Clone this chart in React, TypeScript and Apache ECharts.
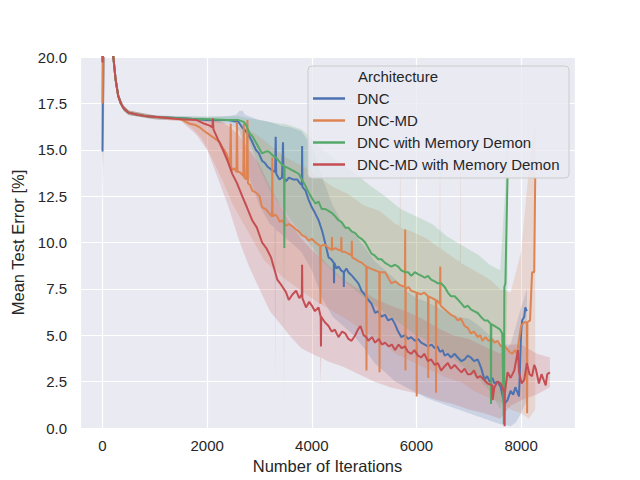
import React, { useEffect, useRef } from "react";
import * as echarts from "echarts";

const SERIES_NAMES = ["DNC", "DNC-MD", "DNC with Memory Demon", "DNC-MD with Memory Demon"];
const COLORS = ["#4c72b0", "#dd8452", "#55a868", "#c44e52"];
const LEGEND_TITLE = "Architecture";
const X_NAME = "Number of Iterations";
const Y_NAME = "Mean Test Error [%]";

// value at iteration 0 per architecture
const startValues = [14.9, 17.5, 19.8, 19.7];
// shared early decay (all architectures overlap)
const earlyX = [50, 100, 150, 200, 250, 300, 350, 400, 500, 650, 850, 1100];
const earlyY = [45, 32, 24, 20.2, 18.8, 17.9, 17.5, 17.25, 17.0, 16.9, 16.8, 16.75];

const dncTail: number[][] = [
  [1500, 16.7], [1800, 16.65], [2000, 16.6], [2200, 16.6], [2400, 16.6], [2600, 16.5], [2670, 16.2], [2770, 15.9],
  [2850, 15.5], [2930, 15.0], [2990, 14.8], [3050, 14.4], [3100, 14.3], [3150, 14.1], [3240, 13.9], [3300, 13.8],
  [3310, 15.7], [3320, 13.7], [3380, 13.4], [3430, 13.5], [3450, 15.4], [3460, 13.5], [3510, 13.3], [3560, 13.5],
  [3640, 13.4], [3720, 13.4], [3770, 13.2], [3810, 13.1], [3815, 15.2], [3820, 13.0], [3880, 12.8], [3940, 12.3],
  [4000, 11.9], [4060, 11.6], [4130, 11.2], [4200, 10.6], [4270, 9.8], [4320, 9.2], [4370, 9.1], [4420, 8.9],
  [4425, 7.8], [4430, 8.9], [4470, 8.6], [4510, 8.7], [4560, 8.5], [4610, 8.4], [4612, 7.6], [4615, 8.4],
  [4660, 8.6], [4700, 8.4], [4770, 8.2], [4830, 8.0], [4890, 7.8], [4950, 7.4], [5010, 7.2], [5080, 6.9],
  [5140, 6.7], [5210, 6.2], [5270, 6.3], [5330, 6.0], [5400, 6.1], [5460, 5.8], [5530, 5.9], [5590, 5.6],
  [5650, 5.2], [5710, 4.9], [5780, 5.0], [5840, 4.8], [5900, 4.9], [5970, 4.7], [6030, 4.8], [6090, 4.6],
  [6160, 4.5], [6220, 4.4], [6290, 4.5], [6350, 4.3], [6400, 4.4], [6450, 4.1], [6500, 4.2], [6540, 3.9],
  [6600, 4.0], [6660, 3.8], [6730, 4.0], [6790, 3.8], [6860, 3.6], [6920, 3.7], [6980, 3.9], [7040, 3.8],
  [7100, 3.6], [7170, 3.7], [7200, 3.5], [7240, 3.2], [7300, 2.6], [7350, 2.8], [7400, 2.5], [7450, 2.7],
  [7490, 2.4], [7550, 2.5], [7610, 2.2], [7680, 1.3], [7740, 1.5], [7800, 2.0], [7850, 1.8], [7890, 2.2],
  [7960, 1.7], [8000, 5.1], [8020, 5.8], [8060, 6.0], [8080, 6.5], [8110, 6.3],
];

const dncMdTail: number[][] = [
  [1500, 16.65], [1670, 16.4], [1760, 16.35], [1860, 16.2], [1950, 16.0], [2050, 15.8], [2150, 15.6], [2240, 15.4],
  [2300, 15.1], [2370, 14.8], [2440, 14.2], [2450, 16.4], [2460, 14.1], [2480, 13.9], [2520, 14.0], [2560, 13.8],
  [2570, 16.5], [2580, 13.8], [2620, 13.8], [2690, 13.6], [2700, 16.4], [2710, 13.5], [2750, 13.4], [2770, 16.6],
  [2780, 13.2], [2820, 13.1], [2860, 12.8], [2930, 12.7], [3000, 12.5], [3050, 11.9], [3120, 11.8], [3180, 11.6],
  [3240, 11.4], [3245, 14.6], [3250, 11.4], [3300, 11.5], [3340, 11.4], [3390, 11.1], [3430, 11.2], [3510, 10.9],
  [3560, 11.0], [3620, 10.9], [3700, 10.7], [3750, 10.6], [3810, 10.4], [3880, 10.3], [3940, 10.1], [4000, 10.2],
  [4070, 10.0], [4120, 9.9], [4160, 9.8], [4165, 6.7], [4170, 9.8], [4250, 9.9], [4320, 9.7], [4380, 9.6],
  [4385, 10.3], [4390, 9.6], [4450, 9.7], [4510, 9.6], [4560, 9.6], [4565, 10.3], [4570, 9.5], [4630, 9.5],
  [4700, 9.4], [4760, 9.3], [4765, 10.1], [4770, 9.2], [4830, 9.1], [4890, 9.0], [4960, 8.9], [5040, 8.7],
  [5045, 3.1], [5050, 8.7], [5120, 8.6], [5210, 8.5], [5290, 8.4], [5295, 3.0], [5300, 8.4], [5400, 8.4],
  [5460, 8.1], [5520, 7.8], [5600, 7.9], [5690, 7.7], [5780, 7.6], [5785, 10.7], [5790, 3.1], [5795, 7.5],
  [5850, 7.6], [5900, 7.4], [6000, 7.3], [6005, 1.7], [6010, 7.3], [6080, 7.2], [6150, 7.3], [6220, 7.1],
  [6225, 2.7], [6230, 7.1], [6300, 7.0], [6370, 6.9], [6375, 1.9], [6380, 6.9], [6450, 6.7], [6455, 8.7],
  [6460, 6.6], [6500, 6.5], [6580, 6.3], [6660, 6.1], [6730, 6.0], [6790, 5.8], [6850, 5.9], [6920, 5.5],
  [6980, 5.4], [7040, 5.1], [7100, 5.2], [7170, 4.9], [7220, 5.0], [7260, 4.7], [7320, 4.9], [7380, 4.7],
  [7440, 4.8], [7490, 4.6], [7550, 4.7], [7610, 4.4], [7660, 4.5], [7720, 4.3], [7780, 4.1], [7830, 4.0],
  [7880, 4.2], [7920, 4.0], [8000, 5.5], [8060, 5.7], [8110, 5.7], [8115, 0.8], [8120, 5.7], [8170, 5.8],
  [8210, 8.4], [8250, 8.4], [8270, 13.5],
];

const dncMemTail: number[][] = [
  [1500, 16.7], [1800, 16.65], [2000, 16.65], [2400, 16.6], [2600, 16.6], [2700, 16.5], [2750, 16.3], [2810, 15.9],
  [2870, 15.7], [2930, 15.4], [2990, 15.1], [3050, 14.8], [3120, 14.9], [3180, 14.9], [3250, 14.7], [3310, 14.6],
  [3370, 14.4], [3430, 14.2], [3470, 14.1], [3475, 9.7], [3480, 14.1], [3560, 14.0], [3620, 13.9], [3690, 13.8],
  [3750, 13.7], [3810, 13.4], [3870, 13.1], [3940, 12.7], [4000, 12.4], [4070, 12.1], [4130, 12.2], [4190, 11.8],
  [4260, 11.8], [4320, 11.7], [4380, 11.6], [4450, 11.4], [4510, 11.2], [4570, 11.1], [4640, 10.8], [4700, 10.8],
  [4760, 10.6], [4830, 10.5], [4890, 10.3], [4950, 10.2], [5020, 10.0], [5080, 9.7], [5140, 9.4], [5200, 9.3],
  [5270, 9.1], [5330, 9.1], [5400, 8.9], [5460, 8.8], [5520, 8.7], [5590, 8.8], [5650, 8.7], [5710, 8.5],
  [5780, 8.4], [5840, 8.4], [5900, 8.2], [5970, 8.4], [6030, 8.3], [6100, 8.2], [6160, 8.1], [6220, 8.2],
  [6280, 8.0], [6350, 7.9], [6410, 7.8], [6470, 7.8], [6540, 7.6], [6600, 7.3], [6660, 7.1], [6730, 7.1],
  [6800, 6.9], [6860, 6.7], [6920, 6.5], [6980, 6.6], [7040, 6.4], [7100, 6.3], [7170, 6.2], [7230, 6.0],
  [7300, 5.8], [7360, 5.8], [7420, 5.6], [7425, 1.3], [7430, 5.6], [7490, 5.5], [7550, 5.4], [7600, 5.3],
  [7640, 5.1], [7670, 0.2], [7680, 7.6], [7700, 7.8], [7740, 13.5],
];

const dncMdMemTail: number[][] = [
  [1500, 16.65], [1800, 16.6], [1950, 16.4], [2050, 16.3], [2100, 16.2], [2110, 16.7], [2120, 16.1], [2200, 15.6],
  [2300, 15.0], [2390, 14.4], [2480, 13.7], [2570, 13.2], [2670, 12.5], [2760, 11.9], [2860, 11.2], [2950, 10.8],
  [3050, 10.0], [3130, 9.7], [3220, 9.2], [3280, 8.6], [3340, 8.0], [3420, 7.7], [3510, 7.3], [3560, 6.9],
  [3630, 7.2], [3700, 7.4], [3760, 7.0], [3810, 7.2], [3815, 8.8], [3820, 7.0], [3890, 6.5], [3950, 6.8],
  [4000, 6.6], [4060, 6.3], [4130, 6.5], [4170, 6.0], [4175, 4.4], [4180, 6.0], [4250, 5.7], [4320, 5.5],
  [4380, 5.2], [4440, 5.3], [4510, 4.9], [4580, 5.2], [4640, 5.1], [4700, 4.8], [4760, 4.7], [4830, 5.0],
  [4880, 5.3], [4930, 5.5], [4990, 5.0], [5040, 4.9], [5080, 4.7], [5150, 4.9], [5210, 4.6], [5280, 4.8],
  [5340, 4.5], [5400, 4.6], [5470, 4.4], [5530, 4.5], [5590, 4.2], [5660, 4.5], [5720, 4.3], [5780, 4.4],
  [5840, 4.1], [5900, 4.0], [5960, 4.2], [6030, 3.9], [6090, 3.8], [6150, 4.0], [6220, 3.6], [6280, 3.7],
  [6350, 3.4], [6410, 3.5], [6470, 3.1], [6530, 3.3], [6600, 3.5], [6660, 3.2], [6730, 3.4], [6790, 3.2],
  [6860, 3.0], [6920, 3.2], [6980, 2.9], [7040, 2.9], [7100, 3.1], [7160, 2.7], [7220, 2.8], [7290, 2.6],
  [7360, 2.4], [7450, 2.3], [7455, 1.5], [7490, 2.2], [7550, 2.5], [7610, 2.4], [7680, 1.9], [7685, 0.1],
  [7690, 1.9], [7740, 3.0], [7800, 2.7], [7870, 3.1], [7940, 4.2], [7960, 3.0], [8010, 2.4], [8060, 2.6],
  [8110, 3.5], [8160, 2.9], [8210, 2.8], [8250, 3.4], [8280, 3.2], [8340, 2.4], [8390, 2.9], [8430, 2.6],
  [8470, 2.3], [8500, 2.9], [8550, 3.0],
];

// confidence bands: [iteration, low, high]
const bandStartLo = [11.8, 14.0, 14.6, 13.9];
const bandEarly: number[][] = [
  [50, 20, 20], [200, 20, 20], [250, 18.5, 19.1], [300, 17.75, 18.05], [400, 17.1, 17.4], [500, 16.88, 17.12],
  [1000, 16.65, 16.85],
];

const dncBand: number[][] = [
  [1500, 16.6, 16.8], [2000, 16.5, 16.75], [2400, 16.4, 16.8], [2560, 16.2, 16.9], [2620, 16.0, 17.1],
  [2680, 15.4, 17.1], [2720, 15.0, 16.9], [2800, 13.5, 16.8], [3000, 12.0, 16.6], [3200, 11.0, 16.5],
  [3290, 10.8, 16.4], [3300, 2.6, 16.4], [3310, 10.7, 16.4], [3400, 10.5, 16.3], [3600, 10.0, 16.2],
  [3800, 9.5, 16.0], [4000, 8.5, 15.2], [4200, 7.0, 13.5], [4400, 6.0, 12.0], [4600, 5.5, 11.0],
  [4800, 5.0, 10.5], [5000, 4.3, 9.8], [5200, 3.5, 9.0], [5400, 3.0, 8.5], [5600, 2.5, 8.0], [5800, 2.2, 7.4],
  [6000, 1.9, 7.0], [6200, 1.6, 6.8], [6400, 1.4, 6.5], [6600, 1.2, 6.2], [6800, 1.0, 6.0], [7000, 0.8, 5.9],
  [7200, 0.6, 5.5], [7400, 0.4, 5.0], [7600, 0.2, 4.5], [7800, 0.1, 4.5], [7900, 0.3, 5.5], [8000, 0.8, 6.5],
  [8110, 1.5, 7.5],
];

const dncMdBand: number[][] = [
  [1500, 16.55, 16.75], [1700, 16.2, 16.7], [1900, 15.6, 16.7], [2100, 14.5, 16.6], [2300, 13.3, 16.5],
  [2500, 12.0, 16.3], [2700, 11.0, 16.2], [2900, 10.0, 15.9], [3100, 9.0, 15.5], [3300, 8.5, 15.0],
  [3500, 8.0, 14.6], [3700, 7.6, 14.3], [3900, 7.2, 14.0], [4100, 6.8, 13.6], [4400, 6.3, 13.0],
  [4700, 5.8, 12.6], [5000, 5.2, 12.0], [5300, 4.7, 11.7], [5600, 4.0, 11.0], [5680, 3.9, 10.9],
  [5690, 3.9, 16.0], [5700, 3.9, 10.8], [5900, 3.6, 10.6], [6200, 3.2, 10.2], [6440, 2.9, 9.7],
  [6450, 2.9, 16.2], [6460, 2.9, 9.7], [6500, 2.8, 9.6], [6800, 2.5, 9.0], [6830, 2.5, 9.0], [6840, 2.5, 16.4],
  [6850, 2.5, 8.9], [7100, 2.0, 8.5], [7400, 1.6, 8.0], [7600, 1.4, 7.5], [7800, 1.0, 7.3], [8000, 0.8, 9.5],
  [8150, 0.5, 14.0], [8270, 1.0, 16.5],
];

const dncMemBand: number[][] = [
  [1500, 16.6, 16.8], [2000, 16.55, 16.8], [2400, 16.5, 16.8], [2600, 16.4, 16.8], [2800, 15.5, 16.7],
  [3000, 14.0, 16.6], [3200, 12.8, 16.5], [3400, 12.0, 16.4], [3460, 11.8, 16.4], [3470, 1.1, 16.4],
  [3480, 11.7, 16.4], [3600, 11.2, 16.3], [3800, 10.5, 16.1], [4000, 9.8, 15.6], [4200, 9.0, 15.0],
  [4500, 8.2, 14.4], [4800, 7.5, 13.8], [5100, 6.8, 13.1], [5400, 6.2, 12.5], [5700, 5.6, 11.8],
  [6000, 5.0, 11.4], [6300, 4.6, 11.0], [6600, 4.0, 10.3], [6900, 3.3, 9.8], [7200, 2.6, 9.3],
  [7400, 2.0, 8.8], [7600, 1.0, 8.5], [7700, 2.0, 13.0], [7740, 8.0, 16.5],
];

const dncMdMemBand: number[][] = [
  [1500, 16.55, 16.75], [1800, 15.8, 16.7], [2000, 15.0, 16.7], [2200, 13.5, 16.6], [2400, 12.0, 16.3],
  [2600, 10.2, 15.8], [2800, 8.7, 15.0], [3000, 7.5, 14.2], [3200, 6.3, 13.0], [3400, 5.6, 12.0],
  [3600, 4.9, 11.0], [3800, 4.3, 10.2], [4000, 4.0, 9.6], [4160, 3.8, 9.2], [4170, 2.3, 9.2], [4180, 3.8, 9.2],
  [4300, 3.6, 8.8], [4600, 3.3, 8.0], [4900, 2.9, 7.5], [5200, 2.5, 7.0], [5500, 2.2, 6.6], [5800, 2.0, 6.3],
  [6100, 1.8, 5.9], [6400, 1.5, 5.4], [6700, 1.3, 5.0], [7000, 1.0, 4.8], [7300, 0.8, 4.4], [7600, 0.5, 4.0],
  [7800, 1.2, 4.5], [8000, 1.5, 4.5], [8300, 1.8, 4.0], [8550, 2.2, 3.8],
];

const tails = [dncTail, dncMdTail, dncMemTail, dncMdMemTail];
const bands = [dncBand, dncMdBand, dncMemBand, dncMdMemBand];

const FONT = "'Liberation Sans', Arial, sans-serif";
const TEXT_COLOR = "#262626";

function rgba(hex: string, a: number) {
  const n = parseInt(hex.slice(1), 16);
  return `rgba(${(n >> 16) & 255},${(n >> 8) & 255},${n & 255},${a})`;
}

function lineData(i: number) {
  const early = earlyX.map((x, k) => [x, earlyY[k]]);
  return [[0, startValues[i]], ...early, ...tails[i]];
}

function bandData(i: number) {
  return [[0, bandStartLo[i], 20], ...bandEarly, ...bands[i]];
}

function bandSeries(i: number) {
  const band = bandData(i);
  const color = COLORS[i];
  return {
    type: "custom",
    name: SERIES_NAMES[i] + " band",
    data: band,
    encode: { x: 0, y: [1, 2] },
    silent: true,
    renderItem: (params: any, api: any) => {
      if (params.dataIndex !== 0) return null;
      const clamp = (v: number) => Math.max(0, Math.min(20, v));
      const top = band.map((d) => api.coord([d[0], clamp(d[2])]));
      const bot = band
        .slice()
        .reverse()
        .map((d) => api.coord([d[0], clamp(d[1])]));
      return {
        type: "polygon",
        shape: { points: top.concat(bot) },
        style: { fill: rgba(color, 0.2) },
      };
    },
  };
}

export default function App() {
  const ref = useRef<HTMLDivElement>(null);
  useEffect(() => {
    if (!ref.current) return;
    const chart = echarts.init(ref.current, null, { renderer: "svg" });
    const series: any[] = [];
    SERIES_NAMES.forEach((name, i) => {
      series.push({
        type: "line",
        name,
        data: lineData(i),
        symbol: "none",
        lineStyle: { color: COLORS[i], width: 2 },
        itemStyle: { color: COLORS[i] },
        clip: true,
      });
      series.push(bandSeries(i));
    });
    chart.setOption({
      animation: false,
      backgroundColor: "#ffffff",
      textStyle: { fontFamily: FONT },
      grid: {
        left: 80,
        right: 65,
        top: 57,
        bottom: 52,
        show: true,
        backgroundColor: "#eaeaf2",
        borderWidth: 0,
      },
      xAxis: {
        type: "value",
        min: -430,
        max: 9030,
        name: X_NAME,
        nameLocation: "middle",
        nameGap: 28,
        nameTextStyle: { fontSize: 16.5, color: TEXT_COLOR, fontFamily: FONT },
        axisLine: { show: false },
        axisTick: { show: false },
        axisLabel: {
          fontSize: 15,
          color: TEXT_COLOR,
          fontFamily: FONT,
          margin: 10,
          showMinLabel: false,
          showMaxLabel: false,
          formatter: (v: number) => (v % 2000 === 0 ? String(v) : ""),
        },
        splitLine: { show: true, lineStyle: { color: "#ffffff", width: 1.2 } },
      },
      yAxis: {
        type: "value",
        min: 0,
        max: 20,
        interval: 2.5,
        name: Y_NAME,
        nameLocation: "middle",
        nameGap: 50,
        nameTextStyle: { fontSize: 16.5, color: TEXT_COLOR, fontFamily: FONT },
        axisLine: { show: false },
        axisTick: { show: false },
        axisLabel: {
          fontSize: 15,
          color: TEXT_COLOR,
          fontFamily: FONT,
          margin: 13,
          formatter: (v: number) => v.toFixed(1),
        },
        splitLine: { show: true, lineStyle: { color: "#ffffff", width: 1.2 } },
      },
      legend: {
        data: SERIES_NAMES,
        orient: "vertical",
        left: 313,
        top: 91,
        padding: 0,
        itemGap: 7,
        itemWidth: 32,
        itemHeight: 2.5,
        icon: "rect",
        selectedMode: false,
        z: 60,
        textStyle: { fontSize: 15, color: TEXT_COLOR, fontFamily: FONT, padding: [0, 0, 0, 7] },
      },
      graphic: [
        {
          type: "rect",
          z: 50,
          shape: { x: 308, y: 66, width: 261, height: 112, r: 4 },
          style: { fill: "rgba(234,234,242,0.8)", stroke: "#cccccc", lineWidth: 1 },
        },
        {
          type: "text",
          z: 51,
          x: 358,
          y: 76,
          style: {
            text: LEGEND_TITLE,
            fontSize: 15,
            fontFamily: FONT,
            fill: TEXT_COLOR,
            verticalAlign: "middle",
            align: "left",
          },
        },
      ],
      series,
    });
    return () => chart.dispose();
  }, []);
  return (
    <div
      ref={ref}
      style={{ position: "fixed", left: 0, top: 0, width: 640, height: 480 }}
    />
  );
}
